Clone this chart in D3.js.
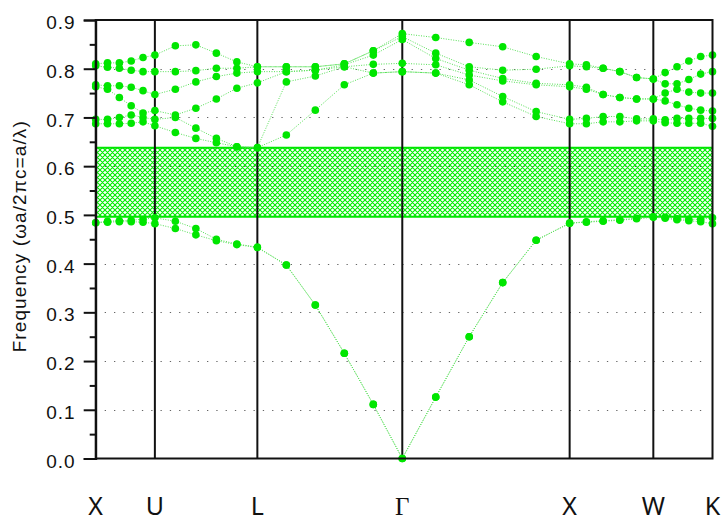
<!DOCTYPE html>
<html>
<head>
<meta charset="utf-8">
<script src="https://cdn.jsdelivr.net/npm/d3@7"></script>
<style>
  body { margin: 0; background: #fff; }
  svg { display: block; }
</style>
</head>
<body>
<script>
// k-path positions (units of 2pi/a), 5 steps per segment
var kDist = [0, 0.0707, 0.1414, 0.2121, 0.2828, 0.3536,
  0.4760, 0.5985, 0.7210, 0.8435, 0.9659,
  1.1391, 1.3123, 1.4855, 1.6587, 1.8319,
  2.0319, 2.2319, 2.4319, 2.6319, 2.8319,
  2.9319, 3.0319, 3.1319, 3.2319, 3.3319,
  3.4026, 3.4733, 3.5440, 3.6148, 3.6855];
var symLabels = ["X", "U", "L", "\u0393", "X", "W", "K"];
var symIndex = [0, 5, 10, 15, 20, 25, 30];

var band1 = [0.484,0.485,0.486,0.486,0.485,0.482,0.472,0.459,0.447,0.439,0.433,0.397,0.315,0.216,0.111,0.000,0.126,0.250,0.361,0.448,0.483,0.485,0.487,0.489,0.492,0.495,0.493,0.490,0.488,0.486,0.482];
var band2 = [0.484,0.487,0.488,0.489,0.491,0.494,0.487,0.472,0.450,0.440,0.434,0.397,0.315,0.216,0.111,0.000,0.126,0.250,0.361,0.448,0.483,0.486,0.488,0.490,0.493,0.496,0.495,0.492,0.491,0.491,0.494];
var band3 = [0.687,0.687,0.687,0.688,0.691,0.683,0.669,0.657,0.648,0.640,0.638,0.664,0.715,0.767,0.791,0.794,0.791,0.767,0.732,0.702,0.687,0.687,0.691,0.691,0.693,0.693,0.689,0.688,0.688,0.688,0.682];
var band4 = [0.696,0.696,0.700,0.705,0.700,0.696,0.700,0.678,0.657,0.640,0.638,0.773,0.785,0.804,0.791,0.794,0.791,0.777,0.743,0.712,0.696,0.698,0.702,0.702,0.697,0.697,0.695,0.698,0.698,0.698,0.698];
var band5 = [0.763,0.758,0.741,0.724,0.709,0.714,0.705,0.719,0.738,0.760,0.771,0.794,0.797,0.804,0.809,0.811,0.808,0.787,0.775,0.767,0.763,0.758,0.747,0.741,0.738,0.738,0.734,0.726,0.719,0.715,0.713];
var band6 = [0.767,0.765,0.765,0.762,0.755,0.747,0.758,0.773,0.784,0.791,0.794,0.794,0.797,0.808,0.828,0.860,0.821,0.797,0.780,0.770,0.767,0.762,0.747,0.741,0.738,0.738,0.750,0.758,0.752,0.750,0.750];
var band7 = [0.806,0.803,0.801,0.797,0.794,0.794,0.794,0.796,0.801,0.801,0.804,0.804,0.804,0.810,0.837,0.866,0.832,0.804,0.797,0.799,0.806,0.804,0.801,0.794,0.782,0.779,0.769,0.769,0.778,0.789,0.794];
var band8 = [0.810,0.812,0.812,0.816,0.823,0.828,0.847,0.849,0.832,0.814,0.804,0.804,0.804,0.810,0.837,0.872,0.864,0.854,0.845,0.825,0.810,0.808,0.801,0.794,0.782,0.779,0.792,0.804,0.816,0.825,0.828];
var bands = [band1, band2, band3, band4, band5, band6, band7, band8];

var yTicks = [0, 0.1, 0.2, 0.3, 0.4, 0.5, 0.6, 0.7, 0.8, 0.9];
var yMinorTicks = [0.05, 0.15, 0.25, 0.35, 0.45, 0.55, 0.65, 0.75, 0.85];
var gridTicks = [0.1, 0.2, 0.3, 0.4, 0.6, 0.7, 0.8];

var w = 723,
    h = 519;
var pLeft = 95.7, pRight = 712.5, pTop = 20, pBottom = 458.5;
var green = "#00e600";

var svg = d3.select("body").append("svg")
    .attr("width", w)
    .attr("height", h);

var x = d3.scaleLinear().domain([0, d3.max(kDist)]).range([pLeft, pRight]);
var y = d3.scaleLinear().domain([0, 0.9]).range([pBottom, pTop]);

// band gap (top of band 2 to bottom of band 3)
var gapLo = d3.max(band2), gapHi = d3.min(band3);

var defs = svg.append("defs");
var pat = defs.append("pattern")
    .attr("id", "hatch")
    .attr("patternUnits", "userSpaceOnUse")
    .attr("width", 5)
    .attr("height", 5);
pat.append("path")
    .attr("d", "M0,0L5,5M5,0L0,5M-1,1L1,-1M4,6L6,4M-1,4L1,6M4,-1L6,1")
    .attr("stroke", "#00ee00")
    .attr("stroke-width", 1.1);

svg.append("rect")
    .attr("x", pLeft)
    .attr("y", y(gapHi))
    .attr("width", pRight - pLeft)
    .attr("height", y(gapLo) - y(gapHi))
    .attr("fill", "url(#hatch)");

[gapLo, gapHi].forEach(function (v) {
  svg.append("line")
      .attr("x1", pLeft).attr("x2", pRight)
      .attr("y1", y(v)).attr("y2", y(v))
      .attr("stroke", green)
      .attr("stroke-width", 2);
});

// dotted grid
svg.append("g").selectAll("line")
    .data(gridTicks)
  .enter().append("line")
    .attr("x1", pLeft + 9).attr("x2", pRight - 4)
    .attr("y1", function (d) { return Math.round(y(d)) + 0.5; })
    .attr("y2", function (d) { return Math.round(y(d)) + 0.5; })
    .attr("stroke", "#666")
    .attr("stroke-width", 1)
    .attr("stroke-dasharray", "1.3,8");

// symmetry point lines
svg.append("g").selectAll("line")
    .data(symIndex.slice(1, -1))
  .enter().append("line")
    .attr("x1", function (d) { return x(kDist[d]); })
    .attr("x2", function (d) { return x(kDist[d]); })
    .attr("y1", pTop).attr("y2", pBottom)
    .attr("stroke", "#111")
    .attr("stroke-width", 2);

// bands
var line = d3.line()
    .x(function (d, i) { return x(kDist[i]); })
    .y(function (d) { return y(d); });

svg.append("g").selectAll("path")
    .data(bands)
  .enter().append("path")
    .attr("d", line)
    .attr("fill", "none")
    .attr("stroke", "#55e055")
    .attr("stroke-width", 1)
    .attr("stroke-dasharray", "1,1.5");

bands.forEach(function (b) {
  svg.append("g").selectAll("circle")
      .data(b)
    .enter().append("circle")
      .attr("cx", function (d, i) { return x(kDist[i]); })
      .attr("cy", function (d) { return y(d); })
      .attr("r", 3.8)
      .attr("fill", green);
});

// frame
svg.append("rect")
    .attr("x", pLeft).attr("y", pTop)
    .attr("width", pRight - pLeft).attr("height", pBottom - pTop)
    .attr("fill", "none")
    .attr("stroke", "#111")
    .attr("stroke-width", 2);

// y axis
var yAxis = svg.append("g")
    .attr("transform", "translate(" + pLeft + ",0)")
    .call(d3.axisLeft(y).tickValues(yTicks).tickSize(12).tickPadding(8).tickFormat(d3.format(".1f")));
yAxis.select(".domain").attr("stroke", "#111").attr("stroke-width", 2);
yAxis.selectAll(".tick line").attr("stroke", "#111").attr("stroke-width", 2);
yAxis.selectAll("text")
    .attr("font-family", "Liberation Sans, Arial, sans-serif")
    .attr("font-size", 19)
    .attr("letter-spacing", "1px")
    .attr("dy", "0.45em")
    .attr("fill", "#111");

var yMinor = svg.append("g")
    .attr("transform", "translate(" + pLeft + ",0)")
    .call(d3.axisLeft(y).tickValues(yMinorTicks).tickSize(6).tickFormat(""));
yMinor.select(".domain").remove();
yMinor.selectAll(".tick line").attr("stroke", "#111").attr("stroke-width", 2);

// k-point labels
svg.append("g").selectAll("text")
    .data(symIndex)
  .enter().append("text")
    .attr("x", function (d) { return x(kDist[d]); })
    .attr("y", 515)
    .attr("text-anchor", "middle")
    .attr("font-family", function (d, i) { return symLabels[i] == "\u0393" ? "Liberation Serif, serif" : "Noto Sans, sans-serif"; })
    .attr("font-size", 25)
    .attr("fill", "#111")
    .text(function (d, i) { return symLabels[i]; });

svg.append("text")
    .attr("transform", "translate(26," + ((pTop + pBottom) / 2 - 3) + ") rotate(-90)")
    .attr("text-anchor", "middle")
    .attr("font-family", "Liberation Sans, Arial, sans-serif")
    .attr("font-size", 19)
    .attr("letter-spacing", "1.1px")
    .attr("fill", "#111")
    .text("Frequency (\u03c9a/2\u03c0c=a/\u03bb)");
</script>
</body>
</html>
